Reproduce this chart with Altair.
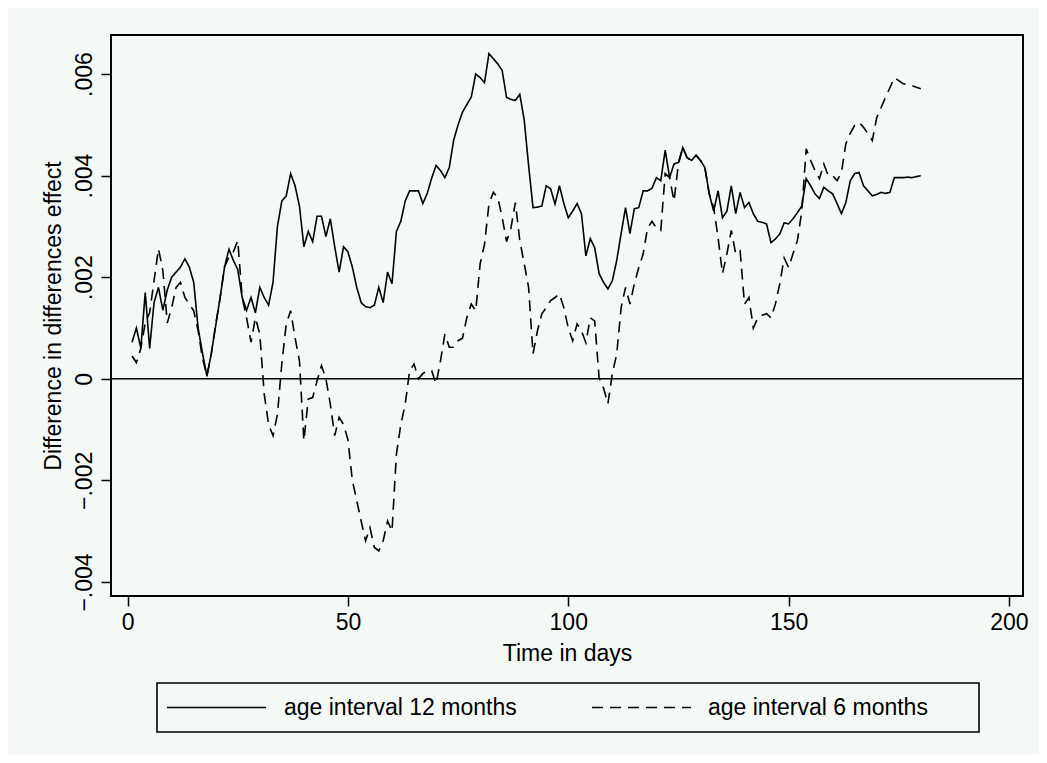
import altair as alt
import pandas as pd

# ---- data (in units of 0.001) ----
days = list(range(1, 181))

age12 = [
    0.72, 1.0, 0.6, 1.7, 0.6, 1.5, 1.8, 1.35, 1.75, 2.0,
    2.1, 2.2, 2.36, 2.2, 1.9, 1.0, 0.5, 0.05, 0.5, 1.05,
    1.6, 2.2, 2.55, 2.33, 2.15, 1.6, 1.35, 1.6, 1.3, 1.8,
    1.6, 1.45, 1.9, 3.0, 3.5, 3.6, 4.04, 3.8, 3.4, 2.6,
    2.9, 2.7, 3.2, 3.2, 2.8, 3.15, 2.6, 2.1, 2.6, 2.5,
    2.2, 1.8, 1.5, 1.42, 1.4, 1.45, 1.8, 1.5, 2.1, 1.87,
    2.9, 3.1, 3.5, 3.7, 3.7, 3.7, 3.45, 3.65, 3.95, 4.2,
    4.1, 3.96, 4.16, 4.7, 5.0, 5.25, 5.4, 5.55, 6.0, 5.93,
    5.83, 6.4, 6.3, 6.2, 6.07, 5.54, 5.5, 5.48, 5.6, 5.1,
    4.2, 3.37, 3.38, 3.4, 3.8, 3.74, 3.44, 3.8, 3.45, 3.17,
    3.3, 3.45, 3.25, 2.42, 2.76, 2.58, 2.07, 1.9, 1.77, 1.93,
    2.33, 2.86, 3.37, 2.86, 3.35, 3.37, 3.7, 3.7, 3.75, 3.96,
    3.9, 4.5, 3.96, 4.23, 4.26, 4.55, 4.35, 4.3, 4.4, 4.3,
    4.16, 3.64, 3.3, 3.7, 3.17, 3.3, 3.8, 3.25, 3.67, 3.37,
    3.47, 3.25, 3.1, 3.08, 3.05, 2.68, 2.75, 2.85, 3.07, 3.05,
    3.15, 3.27, 3.4, 3.94, 3.8, 3.64, 3.55, 3.77, 3.7, 3.64,
    3.45, 3.25, 3.47, 3.9, 4.04, 4.06, 3.8, 3.7, 3.6, 3.63,
    3.67, 3.65, 3.67, 3.96, 3.96, 3.96, 3.97, 3.96, 3.98, 4.0,
]

age6 = [
    0.45, 0.32, 0.6, 1.1, 1.3, 1.93, 2.56, 2.13, 1.1, 1.4,
    1.8, 1.9, 1.6, 1.47, 1.34, 0.95, 0.4, 0.06, 0.5, 1.08,
    1.6, 2.2, 2.4, 2.5, 2.72, 1.6, 1.2, 0.72, 1.2, 0.88,
    -0.3, -0.9, -1.12, -0.7, 0.3, 1.08, 1.34, 0.81, 0.35, -1.22,
    -0.4, -0.37, -0.04, 0.26, 0.0, -0.5, -1.12, -0.76, -0.9, -1.2,
    -2.0, -2.4, -2.8, -3.19, -2.93, -3.32, -3.39, -3.19, -2.8, -3.0,
    -1.48, -0.9, -0.5, 0.16, 0.29, 0.0, 0.1, 0.16, 0.16, -0.1,
    0.35, 0.88, 0.62, 0.62, 0.75, 0.8, 1.21, 1.47, 1.34, 2.26,
    2.65, 3.44, 3.67, 3.57, 3.18, 2.7, 2.97, 3.47, 2.72, 2.27,
    1.8, 0.49, 0.94, 1.28, 1.4, 1.54, 1.6, 1.67, 1.4, 1.0,
    0.75, 1.08, 0.94, 0.71, 1.2, 1.14, 0.02, -0.18, -0.49, 0.1,
    0.49, 1.4, 1.8, 1.47, 1.87, 2.19, 2.46, 2.97, 3.1, 2.97,
    2.92, 4.04, 3.96, 3.5, 4.23, 4.55, 4.35, 4.3, 4.4, 4.3,
    4.16, 3.64, 3.37, 2.78, 2.07, 2.46, 2.92, 2.46, 2.52, 1.47,
    1.6, 1.0, 1.2, 1.25, 1.28, 1.2, 1.47, 1.87, 2.38, 2.19,
    2.46, 2.72, 3.3, 4.53, 4.3, 4.1, 3.94, 4.23, 4.0, 4.0,
    3.9, 4.06, 4.63, 4.83, 4.99, 5.05, 4.95, 4.83, 4.69, 5.14,
    5.34, 5.54, 5.73, 5.93, 5.87, 5.81, 5.79, 5.77, 5.74, 5.71,
]

series_names = ["age interval 12 months", "age interval 6 months"]
x_ticks = [0, 50, 100, 150, 200]
y_ticks = [-0.004, -0.002, 0, 0.002, 0.004, 0.006]

rows = []
for d, v in zip(days, age12):
    rows.append({"day": d, "value": v / 1000, "series": series_names[0]})
for d, v in zip(days, age6):
    rows.append({"day": d, "value": v / 1000, "series": series_names[1]})
df = pd.DataFrame(rows)
legend_df = pd.DataFrame({"series": series_names})

BG = "#f5f9f6"
FONT = "Liberation Sans"
FS = 23

x_scale = alt.Scale(domain=[-3.77, 203.2], nice=False, zero=False)
y_scale = alt.Scale(domain=[-0.004276, 0.006768], nice=False, zero=False)
dash_scale = alt.Scale(domain=series_names, range=[[1, 0], [11, 7]])

lines = alt.Chart(df).mark_line(color="black", strokeWidth=1.6).encode(
    x=alt.X("day:Q", scale=x_scale,
            axis=alt.Axis(values=x_ticks, title="Time in days", format="d")),
    y=alt.Y("value:Q", scale=y_scale,
            axis=alt.Axis(values=y_ticks, title="Difference in differences effect",
                          labelExpr="datum.value == 0 ? '0' : replace(format(datum.value, '.3f'), '0.', '.')",
                          labelAngle=270, labelAlign="center", labelBaseline="bottom")),
    strokeDash=alt.StrokeDash("series:N", scale=dash_scale, legend=None),
)

zero = alt.Chart(pd.DataFrame({"z": [0]})).mark_rule(color="black", strokeWidth=1.6).encode(
    y=alt.Y("z:Q", scale=y_scale)
)

# ---- legend box drawn below the plot (Stata style) ----
box = alt.Chart(pd.DataFrame({"k": [0]})).mark_rect(
    fill=BG, stroke="black", strokeWidth=1.6
).encode(x=alt.value(46), x2=alt.value(868), y=alt.value(648), y2=alt.value(697))

legend_layers = []
sym_x = [(56, 155), (481, 580)]
lab_x = [173, 597]
for name, (sx0, sx1), lx in zip(series_names, sym_x, lab_x):
    base = alt.Chart(legend_df).transform_filter(alt.datum.series == name)
    legend_layers.append(
        base.mark_rule(color="black", strokeWidth=1.6).encode(
            x=alt.value(sx0), x2=alt.value(sx1), y=alt.value(672.5),
            strokeDash=alt.StrokeDash("series:N", scale=dash_scale, legend=None),
        )
    )
    legend_layers.append(
        base.mark_text(align="left", baseline="middle", font=FONT, fontSize=FS,
                       color="black").encode(
            x=alt.value(lx), y=alt.value(673), text="series:N"
        )
    )

chart = alt.layer(zero, lines, box, *legend_layers).properties(
    width=912, height=561,
    autosize=alt.AutoSizeParams(type="none"),
    padding={"left": 103, "top": 27, "right": 16, "bottom": 159},
    background=BG,
).configure_view(
    fill=BG, stroke="black", strokeWidth=2
).configure_axis(
    grid=False, domain=False, ticks=True, tickColor="black", tickSize=10, tickWidth=1.5,
    labelFont=FONT, labelFontSize=FS, labelColor="black", labelPadding=5,
    titleFont=FONT, titleFontSize=FS, titleColor="black", titleFontWeight="normal",
    titlePadding=8,
)

chart.save("out.html", embed_options={"renderer": "svg", "actions": False})
